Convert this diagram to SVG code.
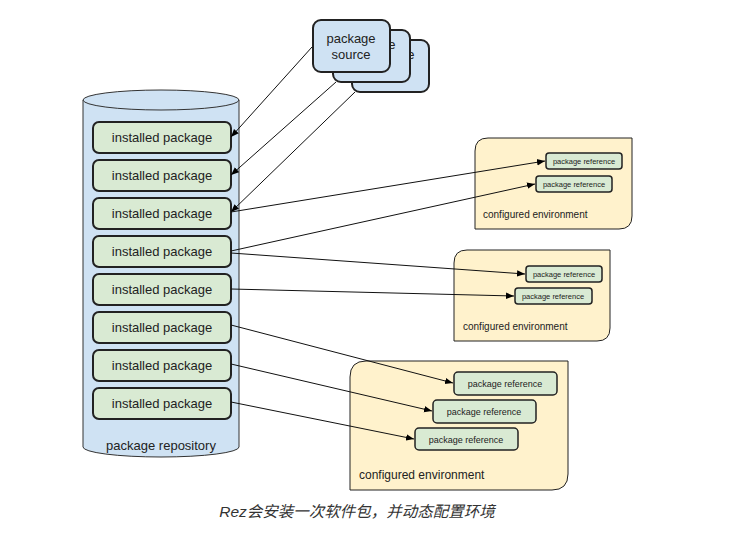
<svg xmlns="http://www.w3.org/2000/svg" width="754" height="546" viewBox="0 0 754 546">
<defs>
<marker id="ah" viewBox="0 0 10 10" refX="10" refY="5" markerWidth="8" markerHeight="8" orient="auto" markerUnits="userSpaceOnUse">
<path d="M0,1 L10,5 L0,9 Z" fill="#000"/>
</marker>
<style>
text{font-family:"Liberation Sans",Arial,sans-serif;fill:#222}
.card{fill:#cfe2f3;stroke:#222;stroke-width:2}
.pkg{fill:#d9ead3;stroke:#222;stroke-width:2}
.ref{fill:#d9ead3;stroke:#222;stroke-width:1.5}
.env{fill:#fff2cc;stroke:#222;stroke-width:1}
.cyl{fill:#cfe2f3;stroke:#333;stroke-width:1}
.pt{font-size:13px;text-anchor:middle}
.rt{text-anchor:middle}
.conn line{stroke:#111;stroke-width:1;marker-end:url(#ah)}
</style>
</defs>
<rect width="754" height="546" fill="#fff"/>

<g id="sources">
<rect class="card" x="352" y="40" width="77" height="52" rx="8"/>
<text class="pt" x="390" y="59">package</text><text class="pt" x="390" y="75">source</text>
<rect class="card" x="333" y="30" width="77" height="52" rx="8"/>
<text class="pt" x="371" y="49">package</text><text class="pt" x="371" y="65">source</text>
<rect class="card" x="313" y="20" width="77" height="52" rx="8"/>
<text class="pt" x="351" y="43">package</text><text class="pt" x="351" y="59">source</text>
</g>

<g id="repository">
<path class="cyl" d="M83,100 L83,447 A78,10 0 0 0 239,447 L239,100 Z"/>
<ellipse class="cyl" cx="161" cy="100" rx="78" ry="10"/>
<text class="pt" x="161" y="450">package repository</text>
</g>

<g id="pkg1"><rect class="pkg" x="93" y="122" width="138" height="31" rx="6"/><text class="pt" x="162" y="142">installed package</text></g>
<g id="pkg2"><rect class="pkg" x="93" y="160" width="138" height="31" rx="6"/><text class="pt" x="162" y="180">installed package</text></g>
<g id="pkg3"><rect class="pkg" x="93" y="198" width="138" height="31" rx="6"/><text class="pt" x="162" y="218">installed package</text></g>
<g id="pkg4"><rect class="pkg" x="93" y="236" width="138" height="31" rx="6"/><text class="pt" x="162" y="256">installed package</text></g>
<g id="pkg5"><rect class="pkg" x="93" y="274" width="138" height="31" rx="6"/><text class="pt" x="162" y="294">installed package</text></g>
<g id="pkg6"><rect class="pkg" x="93" y="312" width="138" height="31" rx="6"/><text class="pt" x="162" y="332">installed package</text></g>
<g id="pkg7"><rect class="pkg" x="93" y="350" width="138" height="31" rx="6"/><text class="pt" x="162" y="370">installed package</text></g>
<g id="pkg8"><rect class="pkg" x="93" y="388" width="138" height="31" rx="6"/><text class="pt" x="162" y="408">installed package</text></g>

<g id="env1">
<path class="env" d="M488,138 L632,138 L632,216 Q632,229 619,229 L475,229 L475,151 Q475,138 488,138 Z"/>
<rect class="ref" x="546" y="153" width="76" height="16" rx="3"/><text class="rt" x="584" y="164" font-size="7.5">package reference</text>
<rect class="ref" x="536" y="176" width="76" height="16" rx="3"/><text class="rt" x="574" y="187" font-size="7.5">package reference</text>
<text x="483" y="218" font-size="10">configured environment</text>
</g>

<g id="env2">
<path class="env" d="M467,250 L610,250 L610,328 Q610,341 597,341 L454,341 L454,263 Q454,250 467,250 Z"/>
<rect class="ref" x="526" y="266" width="76" height="16" rx="3"/><text class="rt" x="564" y="277" font-size="7.5">package reference</text>
<rect class="ref" x="515" y="288" width="77" height="16" rx="3"/><text class="rt" x="553" y="299" font-size="7.5">package reference</text>
<text x="463" y="330" font-size="10">configured environment</text>
</g>

<g id="env3">
<path class="env" d="M366,361 L568,361 L568,474 Q568,490 552,490 L350,490 L350,377 Q350,361 366,361 Z"/>
<rect class="ref" x="454" y="372" width="103" height="23" rx="4"/><text class="rt" x="505" y="387" font-size="9">package reference</text>
<rect class="ref" x="433" y="400" width="103" height="23" rx="4"/><text class="rt" x="484" y="415" font-size="9">package reference</text>
<rect class="ref" x="415" y="428" width="103" height="22" rx="4"/><text class="rt" x="466" y="443" font-size="9">package reference</text>
<text x="359" y="479" font-size="12">configured environment</text>
</g>

<g id="connectors" class="conn">
<line x1="312" y1="47" x2="231" y2="137"/>
<line x1="336" y1="82" x2="231" y2="175"/>
<line x1="355" y1="92" x2="231" y2="212"/>
<line x1="231" y1="212" x2="545" y2="161"/>
<line x1="231" y1="251" x2="535" y2="184"/>
<line x1="231" y1="253" x2="525" y2="274"/>
<line x1="231" y1="289" x2="514" y2="296"/>
<line x1="231" y1="325" x2="453" y2="383"/>
<line x1="231" y1="364" x2="432" y2="411"/>
<line x1="231" y1="402" x2="414" y2="439"/>
</g>

<text x="357" y="517" text-anchor="middle" font-size="15.5" font-style="italic" style="font-family:'Liberation Sans','Noto Sans CJK SC',sans-serif;fill:#333">Rez会安装一次软件包，并动态配置环境</text>
</svg>
